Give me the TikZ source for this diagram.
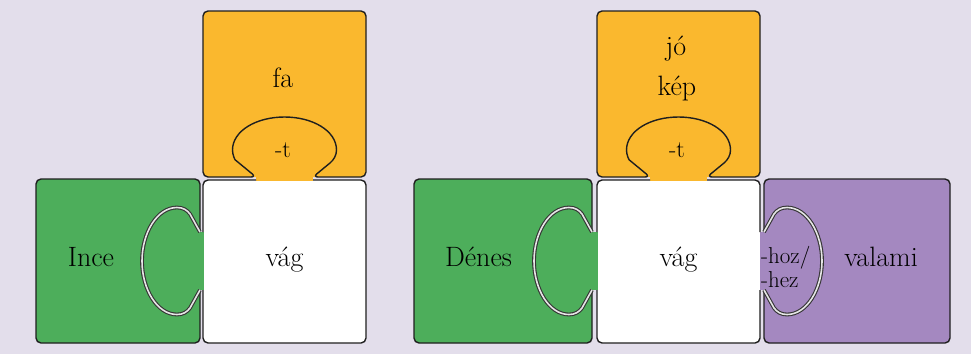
\documentclass[tikz,border=0pt]{standalone}
\usepackage{fontspec}
\definecolor{bgc}{HTML}{E3DEEB}
\definecolor{orangec}{HTML}{FAB82E}
\definecolor{greenc}{HTML}{4DAE5B}
\definecolor{purplec}{HTML}{A488C0}
\definecolor{edgec}{HTML}{1F1F1F}
\begin{document}
\begin{tikzpicture}[x=1pt,y=-1pt,
  edge/.style={draw=edgec, line width=1.4pt, rounded corners=5pt, line join=round},
  cline/.style={draw=edgec!90, line width=1.1pt, double=white!80!gray, double distance=1.6pt},
  boxfill/.style={rounded corners=5pt},
  big/.style={font=\fontsize{28}{32}\selectfont, inner sep=0pt, anchor=base},
  small/.style={font=\fontsize{24}{26}\selectfont, inner sep=0pt, anchor=base},
  smallw/.style={font=\fontsize{23}{26}\selectfont, inner sep=0pt, anchor=base west}]
\fill[bgc] (0,0) rectangle (971,354);
\useasboundingbox (0,0) rectangle (971,354);

% ---------- fills ----------
\fill[orangec, boxfill] (203,11) rectangle (366,177);
\fill[white, boxfill] (203,180) rectangle (366,343);
\fill[greenc, boxfill] (36,179) rectangle (200,343);
\fill[orangec, boxfill] (597,11) rectangle (760,177);
\fill[white, boxfill] (597,180) rectangle (760,343);
\fill[greenc, boxfill] (414,179) rectangle (592,343);
\fill[purplec, boxfill] (764,179) rectangle (950,343);
% gap fills
\fill[orangec] (256,175) rectangle (313,181);
\fill[orangec] (650,175) rectangle (707,181);
\fill[greenc] (199,232) rectangle (204,290);
\fill[greenc] (591,232) rectangle (598,290);
\fill[purplec] (759.5,232) rectangle (765,290);

% ---------- left group outlines ----------
\draw[edge] (340,177) -- (366,177) -- (366,11) -- (203,11) -- (203,177) -- (256,177) -- (239,163)
  [sharp corners] .. controls (235,159.7) and (232.5,155) .. (232.5,150)
  .. controls (232.5,131) and (256,117) .. (284.5,117)
  .. controls (313,117) and (336.5,131) .. (336.5,150)
  .. controls (336.5,155) and (334,159.7) .. (330,163)
  [rounded corners=5pt] -- (313,177) -- (340,177);
\draw[edge] (313,180) -- (366,180) -- (366,343) -- (203,343) -- (203,290);
\draw[edge] (203,232) -- (203,180) -- (256,180);
\draw[edge] (200,232) -- (200,179) -- (36,179) -- (36,343) -- (200,343) -- (200,290);
\draw[cline] (200,232) -- (190,214) .. controls (187,210) and (183,207.5) .. (177,207.5)
  .. controls (157,207.5) and (142,233) .. (142,261)
  .. controls (142,289) and (157,314.5) .. (177,314.5)
  .. controls (183,314.5) and (187,312) .. (190,308) -- (200,290);

% ---------- right group outlines ----------
\begin{scope}[xshift=394pt]
\draw[edge] (340,177) -- (366,177) -- (366,11) -- (203,11) -- (203,177) -- (256,177) -- (239,163)
  [sharp corners] .. controls (235,159.7) and (232.5,155) .. (232.5,150)
  .. controls (232.5,131) and (256,117) .. (284.5,117)
  .. controls (313,117) and (336.5,131) .. (336.5,150)
  .. controls (336.5,155) and (334,159.7) .. (330,163)
  [rounded corners=5pt] -- (313,177) -- (340,177);
\end{scope}
\draw[edge] (707,180) -- (760,180) -- (760,232);
\draw[edge] (760,290) -- (760,343) -- (597,343) -- (597,290);
\draw[edge] (597,232) -- (597,180) -- (650,180);
\draw[edge] (592,232) -- (592,179) -- (414,179) -- (414,343) -- (592,343) -- (592,290);
\begin{scope}[xshift=392pt]
\draw[cline] (200,232) -- (190,214) .. controls (187,210) and (183,207.5) .. (177,207.5)
  .. controls (157,207.5) and (142,233) .. (142,261)
  .. controls (142,289) and (157,314.5) .. (177,314.5)
  .. controls (183,314.5) and (187,312) .. (190,308) -- (200,290);
\end{scope}
\draw[edge] (764,232) -- (764,179) -- (950,179) -- (950,343) -- (764,343) -- (764,290);
\draw[cline] (764,232) -- (774,214) .. controls (777,210) and (781,207.5) .. (787,207.5)
  .. controls (807,207.5) and (822,233) .. (822,261)
  .. controls (822,289) and (807,314.5) .. (787,314.5)
  .. controls (781,314.5) and (777,312) .. (774,308) -- (764,290);

% ---------- texts ----------
\node[big] (fa) at (283,87) {fa};
\node[small] (t1) at (283,157) {-t};
\node[big] (ince) at (91,266) {Ince};
\node[big] (vag1) at (284.5,266.5) {vág};
\node[big] (jo) at (676,55) {jó};
\node[big] (kep) at (677,95) {kép};
\node[small] (t2) at (677,157) {-t};
\node[big] (denes) at (478.5,266.5) {Dénes};
\node[big] (vag2) at (678.5,266.5) {vág};
\node[smallw] (hoz) at (761,263) {-hoz/};
\node[smallw] (hez) at (761,287) {-hez};
\node[big] (valami) at (881,266) {valami};
\end{tikzpicture}
\end{document}
